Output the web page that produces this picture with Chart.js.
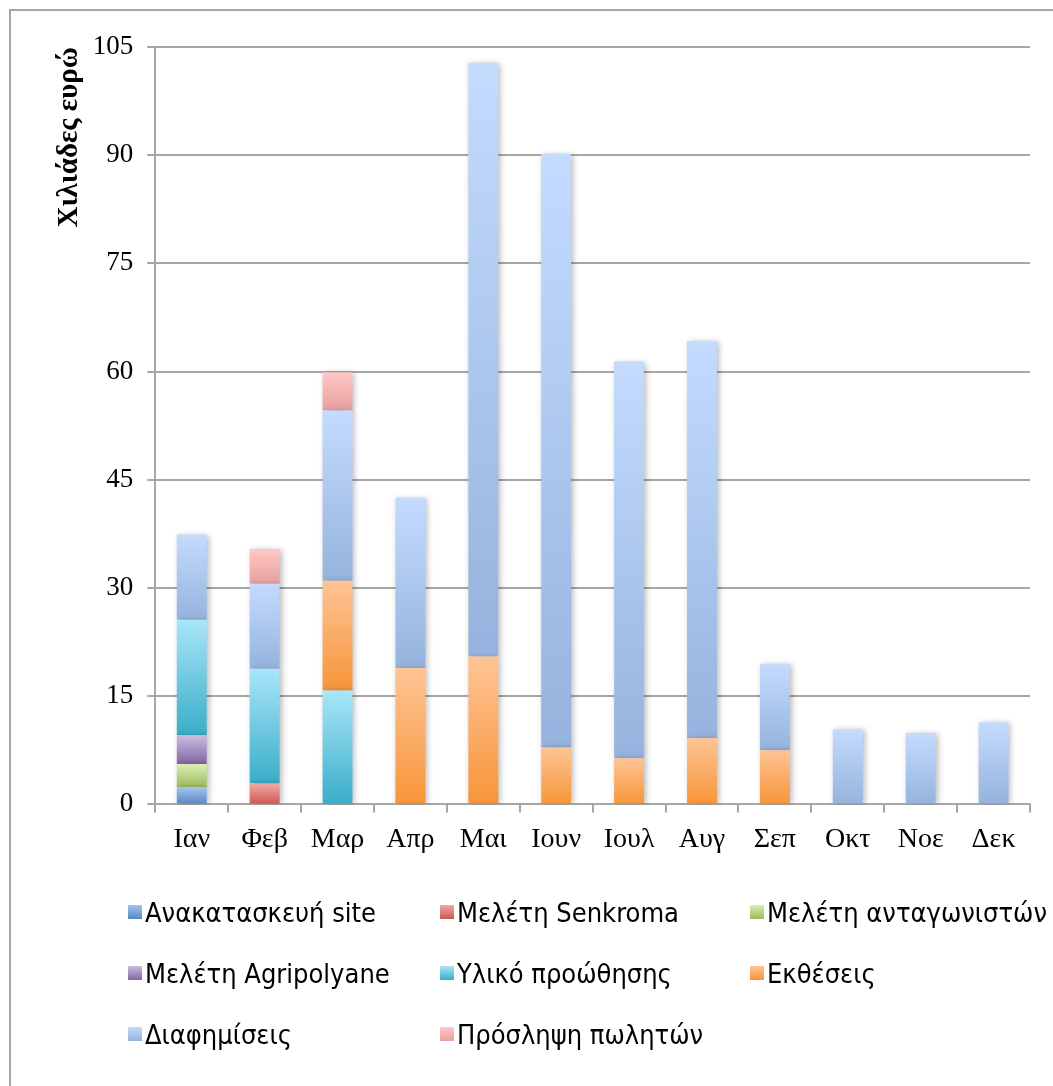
<!DOCTYPE html>
<html>
<head>
<meta charset="utf-8">
<script src="https://cdn.jsdelivr.net/npm/chart.js@4/dist/chart.umd.min.js"></script>
<style>
  html, body { margin: 0; padding: 0; background: #fff; overflow: hidden; }
  #wrap { position: relative; width: 1053px; height: 1086px; }
  #frame { position: absolute; left: 9px; top: 9px; width: 1100px; height: 1100px; border: 2px solid #a6a6a6; box-sizing: border-box; }
  #chart { position: absolute; left: 0; top: 0; }
  #legend { position: absolute; left: 128px; top: 897px; display: grid; grid-template-columns: 312px 310px 300px; grid-auto-rows: 61px;
            font-family: 'DejaVu Sans Condensed', 'Liberation Sans', sans-serif; font-stretch: condensed; font-size: 27px; color: #000; }
  .item { display: flex; align-items: center; height: 30px; white-space: nowrap; }
  .box { width: 14px; height: 14px; margin-right: 3px; flex: none; }
</style>
</head>
<body>
<div id="wrap">
  <div id="frame"></div>
  <canvas id="chart" width="1053" height="1086"></canvas>
  <div id="legend"></div>
</div>
<script>
const MONTHS = ['Ιαν', 'Φεβ', 'Μαρ', 'Απρ', 'Μαι', 'Ιουν', 'Ιουλ', 'Αυγ', 'Σεπ', 'Οκτ', 'Νοε', 'Δεκ']
const SERIES = ['Ανακατασκευή site', 'Μελέτη Senkroma', 'Μελέτη ανταγωνιστών', 'Μελέτη Agripolyane',
                'Υλικό προώθησης', 'Εκθέσεις', 'Διαφημίσεις', 'Πρόσληψη πωλητών']

// χιλιάδες ευρώ ανά μήνα
const anakataskevi = [2.4, 0, 0, 0, 0, 0, 0, 0, 0, 0, 0, 0]
const senkroma     = [0, 2.9, 0, 0, 0, 0, 0, 0, 0, 0, 0, 0]
const antagonistes = [3.2, 0, 0, 0, 0, 0, 0, 0, 0, 0, 0, 0]
const agripolyane  = [4.0, 0, 0, 0, 0, 0, 0, 0, 0, 0, 0, 0]
const yliko        = [16.0, 15.9, 15.8, 0, 0, 0, 0, 0, 0, 0, 0, 0]
const ektheseis    = [0, 0, 15.2, 18.9, 20.5, 7.9, 6.4, 9.2, 7.5, 0, 0, 0]
const diafimiseis  = [11.8, 11.8, 23.6, 23.6, 82.3, 82.3, 55.0, 55.0, 12.0, 10.4, 9.9, 11.4]
const proslipsi    = [0, 4.8, 5.3, 0, 0, 0, 0, 0, 0, 0, 0, 0]

const Y_MAX = 105
const Y_STEP = 15

// top / bottom colour of each gradient
const COLORS = [
  ['#a7c4ee', '#5687c6'],
  ['#f4a9a7', '#cc5652'],
  ['#dbeeb6', '#9cbb5c'],
  ['#cbbde0', '#8266a4'],
  ['#a9e6fa', '#3aadc8'],
  ['#fec496', '#f79538'],
  ['#c4dbfe', '#95b3de'],
  ['#ffc8c6', '#e5a09e'],
]

const VALUES = [anakataskevi, senkroma, antagonistes, agripolyane, yliko, ektheseis, diafimiseis, proslipsi]

function segGradient(top, bottom) {
  return ctx => {
    if (ctx.type !== 'data') return bottom
    const chart = ctx.chart
    const y = chart.scales.y
    if (!y || !chart.chartArea) return bottom
    let start = 0
    for (let i = 0; i < ctx.datasetIndex; i++) start += chart.data.datasets[i].data[ctx.dataIndex] || 0
    const end = start + (ctx.raw || 0)
    const y0 = y.getPixelForValue(start)
    const y1 = y.getPixelForValue(end)
    if (!isFinite(y0) || !isFinite(y1) || y0 === y1) return bottom
    const g = chart.ctx.createLinearGradient(0, y1, 0, y0)
    g.addColorStop(0, top)
    g.addColorStop(1, bottom)
    return g
  }
}

const barShadow = {
  id: 'barShadow',
  beforeDatasetsDraw(chart) {
    const c = chart.ctx
    c.save()
    c.shadowColor = 'rgba(0,0,0,0.28)'
    c.shadowBlur = 6
    c.shadowOffsetX = 2
    c.shadowOffsetY = 1
  },
  afterDatasetsDraw(chart) {
    chart.ctx.restore()
  },
}

const SERIF = "'Liberation Serif', 'DejaVu Serif', serif"

const chart = new Chart(document.getElementById('chart'), {
  type: 'bar',
  data: {
    labels: MONTHS,
    datasets: SERIES.map((label, i) => ({
      label,
      data: VALUES[i],
      backgroundColor: segGradient(COLORS[i][0], COLORS[i][1]),
      borderWidth: 0,
      barPercentage: 0.41,
      categoryPercentage: 1,
    })),
  },
  plugins: [barShadow],
  options: {
    responsive: false,
    animation: false,
    layout: { padding: { top: 47, right: 23, bottom: 220, left: 52 } },
    plugins: {
      legend: { display: false },
      tooltip: { enabled: false },
    },
    scales: {
      x: {
        stacked: true,
        grid: { offset: true, drawOnChartArea: false, drawTicks: true, tickLength: 8, color: '#a6a6a6', lineWidth: 2 },
        border: { color: '#a6a6a6', width: 2 },
        ticks: { color: '#000', font: { family: SERIF, size: 28 }, padding: 10 },
      },
      y: {
        stacked: true,
        min: 0,
        max: Y_MAX,
        grid: { color: '#a6a6a6', lineWidth: 2, tickLength: 8 },
        border: { color: '#a6a6a6', width: 2 },
        ticks: { stepSize: Y_STEP, color: '#000', font: { family: SERIF, size: 27 }, padding: 14 },
        title: {
          display: true,
          text: 'Χιλιάδες ευρώ',
          align: 'end',
          color: '#000',
          font: { family: SERIF, size: 29, weight: 'bold' },
          padding: { top: 0, bottom: -8 },
        },
      },
    },
  },
})

// legend in three columns, like the original
const legend = document.getElementById('legend')
SERIES.forEach((label, i) => {
  const item = document.createElement('div')
  item.className = 'item'
  const box = document.createElement('span')
  box.className = 'box'
  box.style.background = `linear-gradient(${COLORS[i][0]}, ${COLORS[i][1]})`
  const txt = document.createElement('span')
  txt.textContent = label
  item.appendChild(box)
  item.appendChild(txt)
  legend.appendChild(item)
})
</script>
</body>
</html>
